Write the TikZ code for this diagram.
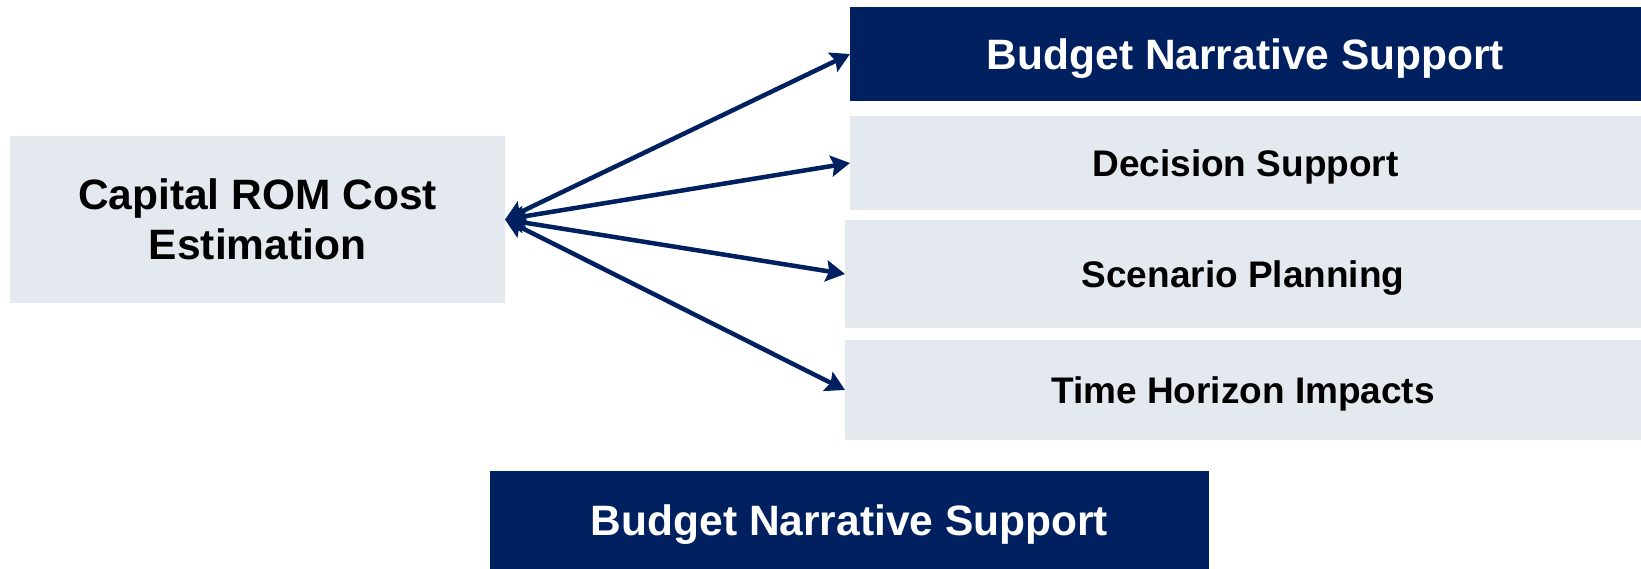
\documentclass[tikz,border=0pt]{standalone}
\usepackage{fontspec}
\setmainfont{Liberation Sans}
\usetikzlibrary{arrows.meta}
\definecolor{navy}{RGB}{0,32,96}
\definecolor{lightgray}{RGB}{228,232,239}
\tikzset{
  box/.style={rectangle, inner sep=0pt, outer sep=0pt, align=center, text depth=0pt, font=\bfseries},
  darkbox/.style={box, fill=navy, text=white, font=\fontsize{42.5}{50}\selectfont\bfseries},
  graybox/.style={box, fill=lightgray, text=black, font=\fontsize{37}{44}\selectfont\bfseries},
  link/.style={navy, line width=4.5pt, {Stealth[length=19pt,width=21pt,inset=3pt]}-{Stealth[length=19pt,width=21pt,inset=3pt]}}
}
\begin{document}
\begin{tikzpicture}[x=1pt,y=-1pt]
\useasboundingbox (0,0) rectangle (1641,569);
\node[graybox, minimum width=495pt, minimum height=167pt, font=\fontsize{42.5}{50}\selectfont\bfseries] (cap) at (257.5,219.5) {Capital ROM Cost\\Estimation};
\node[darkbox, minimum width=791pt, minimum height=94pt] (bns) at (1245.5,54) {Budget Narrative Support};
\node[graybox, minimum width=791pt, minimum height=94pt] (dec) at (1245.5,163) {Decision Support};
\node[graybox, minimum width=796pt, minimum height=108pt] (scen) at (1243,274) {Scenario Planning};
\node[graybox, minimum width=796pt, minimum height=100pt] (time) at (1243,390) {Time Horizon Impacts};
\node[darkbox, minimum width=719pt, minimum height=98pt] (bns2) at (849.5,520) {Budget Narrative Support};
\draw[link] (cap.east) -- (bns.west);
\draw[link] (cap.east) -- (dec.west);
\draw[link] (cap.east) -- (scen.west);
\draw[link] (cap.east) -- (time.west);
\end{tikzpicture}
\end{document}
